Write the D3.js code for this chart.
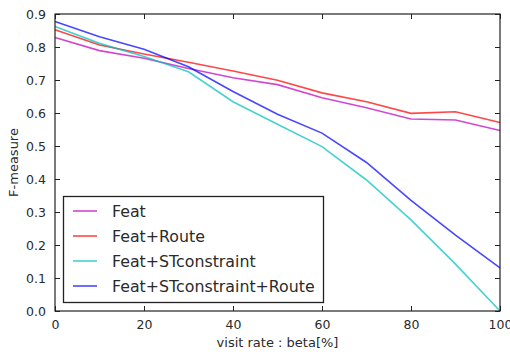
<!DOCTYPE html>
<html><head><meta charset="utf-8">
<script src="https://cdn.jsdelivr.net/npm/d3@7"></script>
<style>body{margin:0;background:#fff;} text{font-family:"DejaVu Sans",sans-serif;fill:#2a2a2a;}</style>
</head><body>
<svg id="c" width="510" height="356"></svg>
<script>
const betas = [0,10,20,30,40,50,60,70,80,90,100];
const seriesNames = ["Feat","Feat+Route","Feat+STconstraint","Feat+STconstraint+Route"];
const feat = [0.829,0.789,0.766,0.735,0.707,0.686,0.646,0.616,0.582,0.579,0.547];
const featRoute = [0.852,0.806,0.779,0.754,0.727,0.699,0.661,0.634,0.599,0.604,0.571];
const featST = [0.862,0.811,0.771,0.725,0.634,0.566,0.498,0.397,0.276,0.142,0.0];
const featSTRoute = [0.877,0.831,0.793,0.740,0.665,0.596,0.539,0.450,0.335,0.230,0.131];
const colors = ["#bf00bf","#ff0000","#00bfbf","#0000ff"];
const xTicks = [0,20,40,60,80,100];
const yTicks = [0.0,0.1,0.2,0.3,0.4,0.5,0.6,0.7,0.8,0.9];

const svg = d3.select("#c");
const L=55, R=500, T=14, B=311;
const x = d3.scaleLinear().domain([0,100]).range([L,R]);
const y = d3.scaleLinear().domain([0,0.9]).range([B,T]);

const data = [feat, featRoute, featST, featSTRoute];
const line = d3.line().x((d,i)=>x(betas[i])).y(d=>y(d));
data.forEach((s,k)=>{
  svg.append("path").attr("d", line(s)).attr("fill","none")
    .attr("stroke", colors[k]).attr("stroke-opacity",0.72).attr("stroke-width",1.6);
});

const axB = d3.axisBottom(x).tickValues(xTicks).tickSizeInner(-5).tickSizeOuter(0).tickPadding(9).tickFormat(d3.format("d"));
const axT = d3.axisTop(x).tickValues(xTicks).tickSizeInner(-5).tickSizeOuter(0).tickFormat("");
const axLf = d3.axisLeft(y).tickValues(yTicks).tickSizeInner(-5).tickSizeOuter(0).tickPadding(9).tickFormat(d3.format(".1f"));
const axRt = d3.axisRight(y).tickValues(yTicks).tickSizeInner(-5).tickSizeOuter(0).tickFormat("");
function style(g){ g.select(".domain").remove(); g.selectAll("line").attr("stroke","#222");
  g.selectAll("text").attr("font-size",12.5).attr("fill","#2a2a2a").style("font-family","DejaVu Sans"); }
svg.append("g").attr("transform",`translate(0,${B})`).call(axB).call(style);
svg.append("g").attr("transform",`translate(0,${T})`).call(axT).call(style);
svg.append("g").attr("transform",`translate(${L},0)`).call(axLf).call(style);
svg.append("g").attr("transform",`translate(${R},0)`).call(axRt).call(style);
svg.append("rect").attr("x",L).attr("y",T).attr("width",R-L).attr("height",B-T)
  .attr("fill","none").attr("stroke","#222").attr("stroke-width",1.2);

svg.append("text").attr("x",(L+R)/2).attr("y",347).attr("text-anchor","middle").attr("font-size",13).text("visit rate : beta[%]");
svg.append("text").attr("transform",`translate(17.5,${(T+B)/2}) rotate(-90)`).attr("text-anchor","middle").attr("font-size",13).text("F-measure");

const lg = svg.append("g");
lg.append("rect").attr("x",63.5).attr("y",196.5).attr("width",260).attr("height",106)
  .attr("fill","#fff").attr("stroke","#222").attr("stroke-width",1.3);
seriesNames.forEach((n,k)=>{
  const yy = 211 + k*25;
  lg.append("line").attr("x1",73).attr("x2",97).attr("y1",yy).attr("y2",yy)
    .attr("stroke",colors[k]).attr("stroke-opacity",0.72).attr("stroke-width",1.6);
  lg.append("text").attr("x",112).attr("y",yy).attr("dy","0.36em").attr("font-size",15.8).text(n);
});
</script>
</body></html>
